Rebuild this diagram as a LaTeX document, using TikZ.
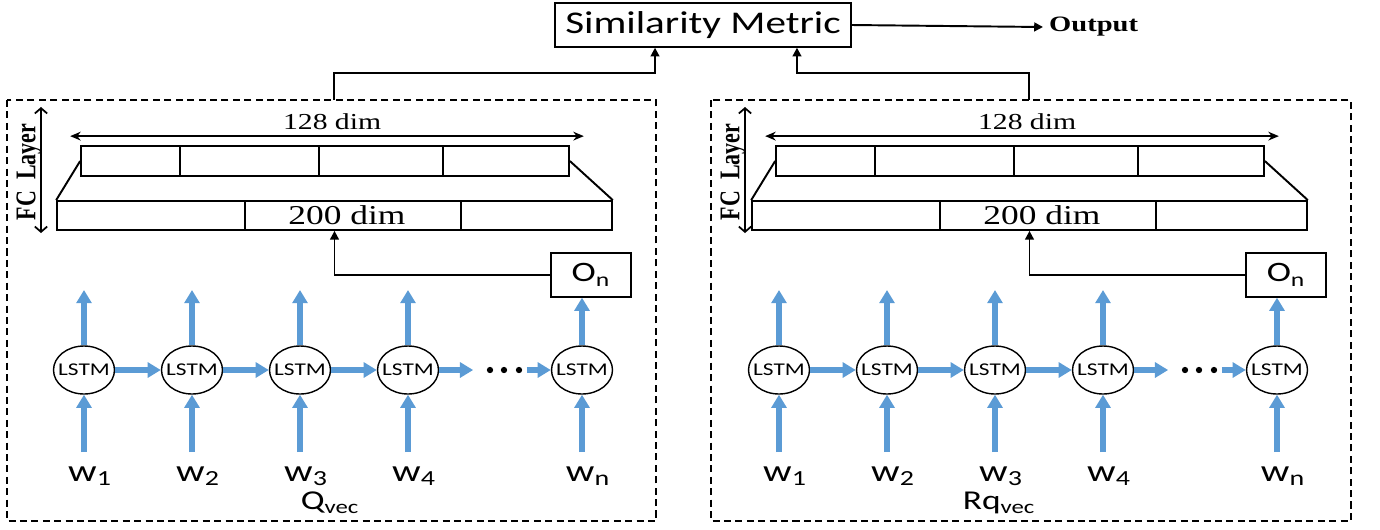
\documentclass[tikz,border=0pt]{standalone}
\usepackage{graphicx}
\usepackage{fontspec}
\setmainfont[FakeStretch=1.3]{Liberation Serif}
\setsansfont[FakeStretch=1.3]{Carlito}
\newfontfamily\plainserif{Liberation Serif}
\usetikzlibrary{shapes.geometric,arrows.meta,positioning,calc}
\definecolor{lstmblue}{HTML}{5B9BD5}

\begin{document}
\begin{tikzpicture}[x=0.02cm, y=-0.02cm,
    lstm/.style={draw, ellipse, line width=0.8pt, minimum width=1.22cm, minimum height=0.96cm, inner sep=0pt, font=\sffamily\fontsize{10.2}{11}\selectfont},
    flow/.style={draw=lstmblue, line width=3pt, -{Triangle[length=7.5pt,width=8.5pt]}},
    conn/.style={draw, line width=1.1pt, -{Triangle[length=5pt,width=5pt]}},
    layer/.style={draw, line width=1pt, inner sep=0pt},
    word/.style={font=\sffamily\fontsize{17.5}{19}\selectfont, inner sep=1pt}]
    \useasboundingbox (0,0) rectangle (1380,529);

    \node (sim) [draw, line width=0.8pt, minimum width=5.92cm, minimum height=0.88cm, font=\sffamily\fontsize{18}{20}\selectfont] at (703,25) {Similarity Metric};
    \node (output) [anchor=west, font=\bfseries\fontsize{12.5}{14}\selectfont] at (1043,27) {Output};
    \draw[conn] (sim.east) -- (output.west);

    % one panel per input: question and response
    \foreach \p/\dx/\bl/\vx/\lab in {q/0/7/330/Q, r/695/16/304/Rq} {
    \begin{scope}[shift={(\dx,0)}]
        \draw[dashed, line width=0.8pt, dash pattern=on 4pt off 2.5pt] (\bl,100) rectangle (656,521);
        \coordinate (\p-top) at (334,100);

        % FC layer
        \node (\p-out) [layer, minimum width=9.76cm, minimum height=0.6cm] at (325,161) {};
        \node (\p-hid) [layer, minimum width=11.1cm, minimum height=0.58cm, font=\fontsize{15.5}{17}\selectfont] at (334.5,215.5) {\hspace{0.5cm}200 dim};
        \foreach \x in {180,319,443} \draw[line width=1pt] (\x,146) -- (\x,176);
        \foreach \x in {245,461} \draw[line width=1pt] (\x,201) -- (\x,230);
        \draw[line width=1.1pt] (\p-out.west) -- (\p-hid.north west);
        \draw[line width=1.1pt] (\p-out.east) -- (\p-hid.north east);
        \draw[line width=0.9pt, {Stealth[length=6pt,width=5pt]}-{Stealth[length=6pt,width=5pt]}] ([shift={(-10,-9)}]\p-out.north west) -- node[above, pos=0.51, font=\fontsize{13}{14}\selectfont] {128 dim} ([shift={(14,-9)}]\p-out.north east);
        \draw[line width=1pt, {Straight Barb[length=3pt,width=7pt]}-{Straight Barb[length=3pt,width=7pt]}] ({\bl+34},107) -- ({\bl+34},233);
        \node (\p-fc) [rotate=90, inner sep=0pt, font=\plainserif\bfseries\fontsize{12.5}{13}\selectfont] at ({\bl+22},172) {\scalebox{1}[1.3]{FC~~Layer}};

        \node (\p-on) [draw, line width=0.8pt, minimum width=1.6cm, minimum height=0.88cm, font=\sffamily\fontsize{16}{17}\selectfont] at (591,275) {O\textsubscript{n}};
        \draw[conn] (\p-on.west) -| (\p-hid.south);

        % LSTM chain
        \foreach \i/\x/\s in {1/84/1, 2/192/2, 3/300/3, 4/408/4, 5/582/n} {
            \node (\p-lstm\i) [lstm] at (\x,370) {\makebox[0pt]{LSTM}};
            \coordinate (\p-in\i) at (\x,452);
            \node (\p-w\i) [word] at (\x+6,476) {w\textsubscript{\s}};
            \draw[flow] (\p-in\i) -- (\p-lstm\i);
        }
        \foreach \i/\x in {1/84, 2/192, 3/300, 4/408} {
            \coordinate (\p-h\i) at (\x,290);
            \draw[flow] (\p-lstm\i) -- (\p-h\i);
        }
        \draw[flow] (\p-lstm5) -- (\p-lstm5 |- \p-on.south);
        \foreach \i/\j in {1/2, 2/3, 3/4} \draw[flow] (\p-lstm\i) -- (\p-lstm\j);
        \node (\p-dots) [minimum width=1.06cm, inner sep=0pt] at (500,370) {};
        \foreach \d in {490,504,519} \fill (\d,370) circle (1.8pt);
        \draw[flow] (\p-lstm4) -- (\p-dots);
        \draw[flow] (\p-dots) -- (\p-lstm5);

        \node (\p-vec) [font=\sffamily\fontsize{15.5}{16}\selectfont] at (\vx,503) {\lab\textsubscript{vec}};
    \end{scope}
    }

    \draw[conn] (q-top) -- ++(0,-27) -| ([xshift=-0.96cm]sim.south);
    \draw[conn] (r-top) -- ++(0,-27) -| ([xshift=1.88cm]sim.south);
\end{tikzpicture}
\end{document}
